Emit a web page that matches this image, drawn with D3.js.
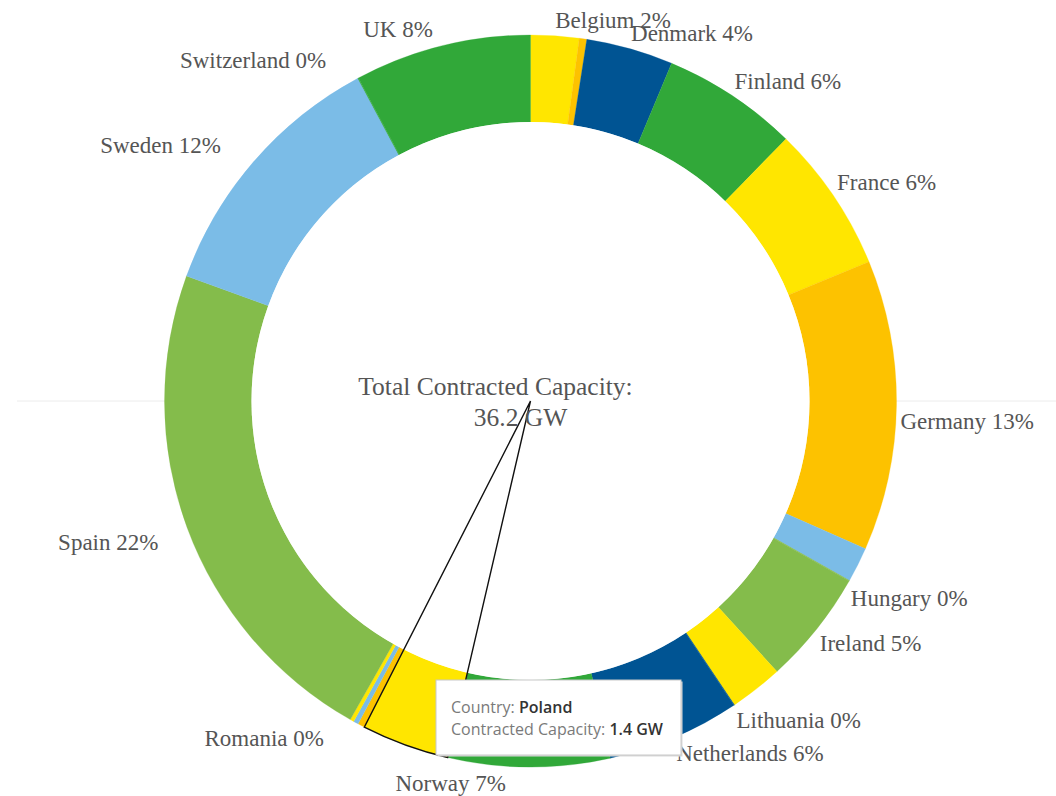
<!DOCTYPE html>
<html>
<head>
<meta charset="utf-8">
<script src="https://cdn.jsdelivr.net/npm/d3@7"></script>
<style>
  html, body { margin: 0; padding: 0; background: #fff; }
  svg { display: block; }
</style>
</head>
<body>
<svg id="chart" width="1056" height="796"></svg>
<script>
// Contracted capacity by country (GW), in chart order, clockwise from 12 o'clock
const countries = ["Belgium","Bulgaria","Denmark","Finland","France","Germany","Greece","Hungary",
  "Ireland","Italy","Lithuania","Netherlands","Norway","Poland","Portugal","Romania","Slovakia",
  "Spain","Sweden","Switzerland","UK"];
const capacityGW = [0.77,0.12,1.39,2.17,2.35,4.64,0.56,0.01,
  1.83,0.85,0.01,2.13,2.58,1.40,0.11,0.08,0.06,
  8.09,4.21,0.01,2.82];
// Countries whose slice carries an outside label
const labelled = ["Belgium","Denmark","Finland","France","Germany","Hungary","Ireland","Lithuania",
  "Netherlands","Norway","Romania","Spain","Sweden","Switzerland","UK"];
// Highlighted country shown in the tooltip
const selectedCountry = "Poland";

// Palette
const YELLOW = "#ffe600", ORANGE = "#fdc200", NAVY = "#005493", GREEN = "#31a839",
      SKY = "#7bbce7", LIME = "#84bc4b";
const sliceColors = [YELLOW, ORANGE, NAVY, GREEN, YELLOW, ORANGE, SKY, LIME,
  LIME, YELLOW, NAVY, NAVY, GREEN, YELLOW, ORANGE, SKY, YELLOW,
  LIME, SKY, GREEN, GREEN];

const data = countries.map((c, i) => ({ country: c, gw: capacityGW[i] }));
const total = d3.sum(data, d => d.gw);

const svg = d3.select("#chart");
const cx = 530.5, cy = 401, R = 366, r = 279;

const color = d3.scaleOrdinal().domain(countries).range(sliceColors);

// faint divider behind the ring
svg.append("line")
  .attr("x1", 17).attr("x2", 1056).attr("y1", cy).attr("y2", cy)
  .attr("stroke", "#ececec").attr("stroke-width", 1);

const g = svg.append("g").attr("transform", `translate(${cx},${cy})`);

const pie = d3.pie().sort(null).value(d => d.gw).startAngle(0).endAngle(2 * Math.PI);
const arcs = pie(data);
const ring = d3.arc().innerRadius(r).outerRadius(R);

g.selectAll("path.slice").data(arcs).join("path")
  .attr("class", "slice")
  .attr("d", ring)
  .attr("fill", d => color(d.data.country))
  .attr("stroke", d => color(d.data.country))
  .attr("stroke-width", 0.3);

// white hole in the middle
g.append("circle").attr("r", r).attr("fill", "#fff");

// outside labels: nearest corner of the text box sits on a circle just outside the ring
const labelR = 370, leftGap = 30;
const nudge = { "UK": [22, -2], "Norway": [7, 1], "Spain": [5, 1], "Germany": [0, 4], "Hungary": [-2, 4], "Switzerland": [0, -3], "Sweden": [0, -2] };
const fmtPct = d => Math.round(d.data.gw / total * 100) + "%";

g.selectAll("text.lbl").data(arcs.filter(d => labelled.includes(d.data.country))).join("text")
  .attr("class", "lbl")
  .each(function(d) {
    const a = (d.startAngle + d.endAngle) / 2;
    const s = Math.sin(a), c = Math.cos(a);
    let x = labelR * s, y = -labelR * c;
    const right = s >= 0 && a < Math.PI;
    const upper = c > 0;
    x = right ? x : x - leftGap;
    y = upper ? y - 11 : y + 12;
    const n = nudge[d.data.country] || [0, 0];
    d3.select(this)
      .attr("x", x + n[0]).attr("y", y + n[1])
      .attr("text-anchor", right ? "start" : "end")
      .attr("dominant-baseline", "central");
  })
  .attr("font-family", "'Liberation Serif', 'Times New Roman', serif")
  .attr("font-size", 23)
  .attr("fill", "#555")
  .text(d => `${d.data.country} ${fmtPct(d)}`);

// centre total
const centre = svg.append("g")
  .attr("font-family", "'Liberation Serif', 'Times New Roman', serif")
  .attr("font-size", 25.5).attr("fill", "#555").attr("text-anchor", "middle");
centre.append("text").attr("x", 495.5).attr("y", 395).text("Total Contracted Capacity:");
centre.append("text").attr("x", 520.5).attr("y", 426).text(`${total.toFixed(1)} GW`);

// selection outline around the highlighted wedge
const sel = arcs.find(d => d.data.country === selectedCountry);
g.append("path")
  .attr("d", d3.arc().innerRadius(0).outerRadius(R)(sel))
  .attr("fill", "none").attr("stroke", "#111").attr("stroke-width", 1.4)
  .attr("stroke-linejoin", "miter");

// tooltip
const tip = svg.append("g").attr("transform", "translate(436,680)");
tip.append("rect").attr("x", 1.5).attr("y", 1.5).attr("width", 245).attr("height", 75)
  .attr("fill", "#d9d9d9");
tip.append("rect").attr("width", 245).attr("height", 75)
  .attr("fill", "#fff").attr("stroke", "#c8c8c8").attr("stroke-width", 1);
const tipFont = "'Open Sans', 'Noto Sans', sans-serif";
const t1 = tip.append("text").attr("x", 15).attr("y", 33)
  .attr("font-family", tipFont).attr("font-size", 16);
t1.append("tspan").attr("fill", "#7a7a7a").text("Country: ");
t1.append("tspan").attr("fill", "#333").attr("font-weight", 600).text(sel.data.country);
const t2 = tip.append("text").attr("x", 15).attr("y", 55)
  .attr("font-family", tipFont).attr("font-size", 16);
t2.append("tspan").attr("fill", "#7a7a7a").text("Contracted Capacity: ");
t2.append("tspan").attr("fill", "#333").attr("font-weight", 600).text(`${sel.data.gw.toFixed(1)} GW`);
</script>
</body>
</html>
